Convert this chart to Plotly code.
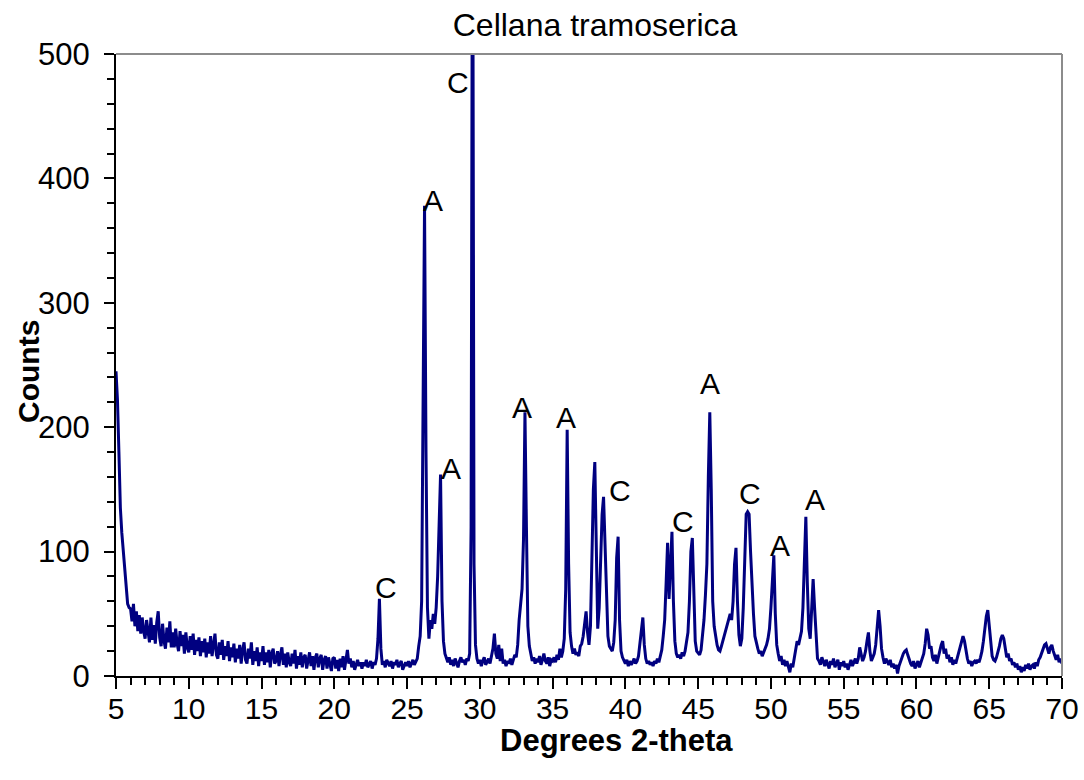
import plotly.graph_objects as go

# 2-theta grid: 5.0 .. 70.0 in 0.1 degree steps
theta_start = 5.0
theta_step = 0.1

counts = [
    # 5.0-5.9
    245, 222, 180, 135, 115, 100, 82, 68, 58, 55,
    # 6.0-6.9
    54, 44, 58, 40, 52, 36, 49, 34, 47, 36,
    # 7.0-7.9
    30, 45, 33, 27, 47, 29, 41, 26, 43, 52,
    # 8.0-8.9
    31, 24, 42, 28, 22, 39, 27, 44, 23, 35,
    # 9.0-9.9
    23, 38, 26, 20, 36, 24, 33, 18, 35, 23,
    # 10.0-10.9
    19, 32, 21, 34, 17, 29, 20, 31, 16, 28,
    # 11.0-11.9
    19, 30, 15, 27, 18, 32, 16, 26, 34, 17,
    # 12.0-12.9
    14, 27, 17, 29, 13, 24, 16, 28, 12, 23,
    # 13.0-13.9
    15, 26, 11, 22, 14, 25, 10, 21, 27, 13,
    # 14.0-14.9
    10, 22, 14, 27, 9, 20, 12, 23, 8, 19,
    # 15.0-15.9
    12, 24, 9, 19, 11, 21, 7, 18, 22, 10,
    # 16.0-16.9
    12, 20, 8, 17, 23, 9, 18, 7, 19, 11,
    # 17.0-17.9
    8, 18, 10, 21, 6, 16, 9, 19, 7, 15,
    # 18.0-18.9
    17, 6, 14, 19, 8, 16, 5, 15, 18, 7,
    # 19.0-19.9
    14, 17, 5, 13, 16, 6, 15, 8, 4, 14,
    # 20.0-20.9
    15, 6, 13, 4, 14, 7, 16, 5, 12, 21,
    # 21.0-21.9
    10, 14, 7, 12, 5, 10, 13, 8, 11, 6,
    # 22.0-22.9
    11, 8, 13, 7, 10, 12, 6, 11, 9, 14,
    # 23.0-23.9
    30, 62, 22, 9, 12, 7, 13, 10, 8, 12,
    # 24.0-24.9
    6, 11, 9, 13, 7, 10, 12, 5, 9, 11,
    # 25.0-25.9
    8, 12, 7, 10, 13, 9, 11, 14, 24, 32,
    # 26.0-26.9
    60, 200, 378, 180, 55, 30, 45, 38, 50, 42,
    # 27.0-27.9
    55, 80, 125, 162, 60, 28, 18, 14, 11, 15,
    # 28.0-28.9
    9, 13, 8, 14, 10, 7, 12, 15, 11, 13,
    # 29.0-29.9
    9, 14, 12, 18, 120, 700, 90, 25, 14, 10,
    # 30.0-30.9
    13, 8, 12, 15, 9, 11, 14, 10, 16, 22,
    # 31.0-31.9
    34, 18, 14, 25, 12, 22, 10, 13, 8, 12,
    # 32.0-32.9
    10, 14, 9, 13, 17, 15, 25, 45, 60, 70,
    # 33.0-33.9
    110, 212, 120, 40, 24, 17, 12, 15, 10, 14,
    # 34.0-34.9
    11, 16, 9, 13, 18, 12, 10, 15, 8, 13,
    # 35.0-35.9
    12, 15, 11, 17, 13, 22, 15, 20, 30, 70,
    # 36.0-36.9
    198, 90, 35, 24, 18, 22, 17, 19, 16, 24,
    # 37.0-37.9
    26, 32, 45, 52, 35, 25, 40, 95, 150, 172,
    # 38.0-38.9
    100, 38, 55, 85, 130, 144, 100, 55, 32, 24,
    # 39.0-39.9
    22, 20, 27, 45, 95, 112, 45, 20, 15, 13,
    # 40.0-40.9
    10, 13, 8, 12, 9, 11, 14, 10, 12, 16,
    # 41.0-41.9
    25, 34, 47, 25, 14, 10, 12, 9, 11, 8,
    # 42.0-42.9
    12, 10, 14, 11, 15, 21, 32, 45, 75, 107,
    # 43.0-43.9
    62, 95, 116, 60, 28, 18, 15, 17, 14, 19,
    # 44.0-44.9
    16, 20, 26, 35, 60, 100, 111, 60, 28, 20,
    # 45.0-45.9
    18, 17, 21, 33, 45, 65, 90, 160, 212, 150,
    # 46.0-46.9
    60, 40, 30, 25, 21, 20, 24, 28, 33, 38,
    # 47.0-47.9
    42, 46, 50, 45, 60, 90, 103, 60, 33, 24,
    # 48.0-48.9
    30, 55, 90, 130, 132, 130, 100, 72, 50, 32,
    # 49.0-49.9
    26, 22, 18, 20, 16, 19, 22, 25, 30, 38,
    # 50.0-50.9
    55, 80, 97, 50, 25, 18, 12, 16, 9, 13,
    # 51.0-51.9
    8, 12, 6, 3, 10, 7, 14, 20, 28, 25,
    # 52.0-52.9
    32, 36, 55, 100, 128, 75, 38, 30, 55, 78,
    # 53.0-53.9
    55, 30, 14, 12, 9, 15, 11, 8, 13, 10,
    # 54.0-54.9
    6, 12, 9, 14, 7, 10, 13, 5, 11, 8,
    # 55.0-55.9
    12, 7, 10, 5, 9, 13, 8, 11, 14, 10,
    # 56.0-56.9
    14, 23, 17, 12, 15, 20, 28, 35, 20, 12,
    # 57.0-57.9
    15, 18, 25, 38, 53, 40, 22, 15, 10, 14,
    # 58.0-58.9
    12, 9, 13, 7, 10, 6, 9, 2, 8, 12,
    # 59.0-59.9
    14, 18, 20, 21, 17, 13, 10, 8, 12, 6,
    # 60.0-60.9
    9, 12, 7, 11, 14, 18, 26, 38, 33, 22,
    # 61.0-61.9
    24, 15, 12, 17, 10, 14, 20, 25, 28, 18,
    # 62.0-62.9
    22, 14, 17, 11, 15, 9, 13, 10, 14, 18,
    # 63.0-63.9
    22, 26, 32, 28, 20, 14, 10, 12, 8, 11,
    # 64.0-64.9
    12, 10, 13, 11, 15, 20, 28, 40, 48, 53,
    # 65.0-65.9
    40, 24, 16, 13, 12, 15, 19, 24, 30, 33,
    # 66.0-66.9
    30, 22, 15, 18, 12, 14, 9, 11, 7, 10,
    # 67.0-67.9
    5, 8, 3, 7, 4, 9, 6, 10, 5, 8,
    # 68.0-68.9
    9, 6, 11, 8, 13, 15, 18, 22, 25, 26,
    # 69.0-69.9
    21, 18, 23, 25, 20, 16, 13, 17, 11, 14,
    # 70.0
    10,
]

two_theta = [round(theta_start + i * theta_step, 1) for i in range(len(counts))]

# Phase labels (A = aragonite, C = calcite) placed next to their peaks
peak_labels = ["C", "A", "C", "A", "A", "A", "C", "C", "A", "C", "A", "A"]
peak_label_x = [23.55, 26.78, 28.5, 28.02, 32.9, 35.92, 39.63, 43.96, 45.81, 48.56, 50.62, 53.03]
peak_label_y = [71.5, 382.6, 476.7, 167, 216, 208, 149.5, 123.8, 235.5, 147, 105, 141.5]

x_ticks = [5, 10, 15, 20, 25, 30, 35, 40, 45, 50, 55, 60, 65, 70]
y_ticks = [0, 100, 200, 300, 400, 500]

FONT = "Arial, Liberation Sans, Helvetica, sans-serif"

fig = go.Figure()
fig.add_trace(go.Scatter(
    x=two_theta, y=counts, mode="lines",
    line=dict(color="#000080", width=3),
    showlegend=False, hoverinfo="x+y",
))

for lab, lx, ly in zip(peak_labels, peak_label_x, peak_label_y):
    fig.add_annotation(x=lx, y=ly, text=lab, showarrow=False,
                       xref="x", yref="y", xanchor="center", yanchor="middle",
                       font=dict(family=FONT, size=30, color="black"))

# axis titles
fig.add_annotation(text="<b>Counts</b>", xref="paper", yref="paper",
                   x=(28 - 116) / 946, y=(676 - 372) / 622, showarrow=False, textangle=-90,
                   xanchor="center", yanchor="middle",
                   font=dict(family=FONT, size=30, color="black"))
fig.add_annotation(text="<b>Degrees 2-theta</b>", xref="paper", yref="paper",
                   x=(616 - 116) / 946, y=(676 - 740) / 622, showarrow=False,
                   xanchor="center", yanchor="middle",
                   font=dict(family=FONT, size=31, color="black"))

# grey top/right frame
fig.add_shape(type="line", xref="paper", yref="paper", x0=0, x1=1, y0=1, y1=1,
              line=dict(color="#8c8c8c", width=2))
fig.add_shape(type="line", xref="paper", yref="paper", x0=1, x1=1, y0=0, y1=1,
              line=dict(color="#8c8c8c", width=2))

fig.update_layout(
    width=1084, height=780,
    margin=dict(l=116, r=22, t=54, b=104, autoexpand=False),
    paper_bgcolor="white", plot_bgcolor="white",
    title=dict(text="Cellana tramoserica", x=595 / 1084, xref="container",
               y=1 - 25 / 780, yref="container", xanchor="center", yanchor="middle",
               font=dict(family=FONT, size=32, color="black")),
    font=dict(family=FONT, color="black"),
)
fig.update_xaxes(
    range=[5, 70], tickvals=x_ticks, ticks="outside", ticklen=11, tickwidth=2,
    tickcolor="black", showline=True, linecolor="black", linewidth=2,
    showgrid=False, zeroline=False, automargin=False, ticklabelstandoff=-6,
    tickfont=dict(family=FONT, size=30, color="black"),
    minor=dict(dtick=1, tick0=5, ticks="outside", ticklen=7, tickwidth=1.5, tickcolor="black", showgrid=False),
)
fig.update_yaxes(
    range=[0, 500], tickvals=y_ticks, ticks="outside", ticklen=10, tickwidth=2,
    tickcolor="black", showline=True, linecolor="black", linewidth=2,
    showgrid=False, zeroline=False, automargin=False, ticklabelstandoff=8,
    tickfont=dict(family=FONT, size=31, color="black"),
    minor=dict(dtick=20, tick0=0, ticks="outside", ticklen=7, tickwidth=1.5, tickcolor="black", showgrid=False),
)

fig.write_html("out.html", config={"displayModeBar": False},
               post_script="document.body.style.margin='0px';")
